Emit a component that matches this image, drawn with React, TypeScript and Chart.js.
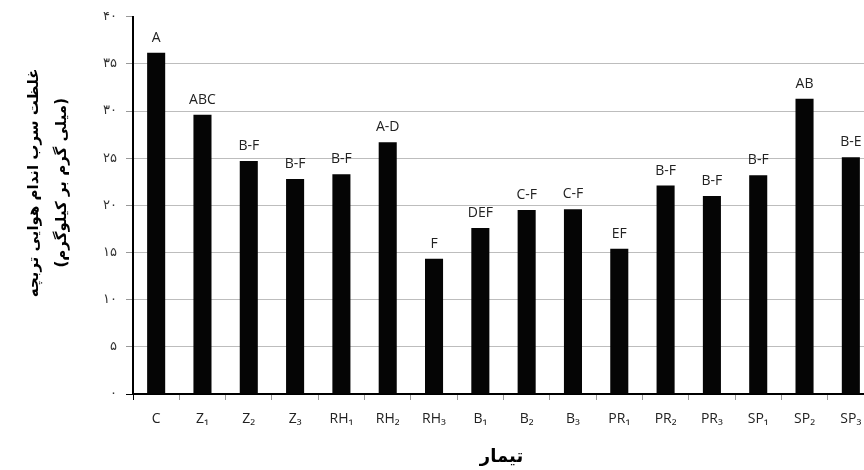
import React, { useEffect, useRef } from "react";
import { Chart, registerables } from "chart.js";

Chart.register(...registerables);

const categories = ["C", "Z₁", "Z₂", "Z₃", "RH₁", "RH₂", "RH₃", "B₁", "B₂", "B₃", "PR₁", "PR₂", "PR₃", "SP₁", "SP₂", "SP₃"];
const leadValues = [36.2, 29.6, 24.7, 22.8, 23.3, 26.7, 14.35, 17.6, 19.5, 19.6, 15.4, 22.1, 21.0, 23.2, 31.3, 25.1];
const groupLetters = ["A", "ABC", "B-F", "B-F", "B-F", "A-D", "F", "DEF", "C-F", "C-F", "EF", "B-F", "B-F", "B-F", "AB", "B-E"];
const yTickLabels = ["۰", "۵", "۱۰", "۱۵", "۲۰", "۲۵", "۳۰", "۳۵", "۴۰"];
const yTitleLines = ["غلظت سرب اندام هوایی تربچه", "(میلی گرم بر کیلوگرم)"];
const xTitle = "تیمار";

const letterPlugin = {
  id: "letters",
  afterDatasetsDraw(chart: any) {
    const ctx = chart.ctx;
    const meta = chart.getDatasetMeta(0);
    ctx.save();
    ctx.font = "14px 'Open Sans'";
    ctx.fillStyle = "#222";
    ctx.textAlign = "center";
    ctx.textBaseline = "alphabetic";
    meta.data.forEach((bar: any, i: number) => {
      ctx.fillText(groupLetters[i], bar.x, bar.y - 11);
    });
    ctx.restore();
  },
};

const titlePlugin = {
  id: "titles",
  afterDraw(chart: any) {
    const ctx = chart.ctx;
    const area = chart.chartArea;
    ctx.save();
    ctx.fillStyle = "#000";
    ctx.direction = "rtl";
    ctx.textAlign = "center";
    ctx.textBaseline = "middle";
    ctx.font = "bold 15px 'DejaVu Sans'";
    const cy = area.top + (area.bottom - area.top) * 0.44;
    const xs = [34, 62];
    yTitleLines.forEach((line, i) => {
      ctx.save();
      ctx.translate(xs[i], cy);
      ctx.rotate(-Math.PI / 2);
      ctx.fillText(line, 0, 0);
      ctx.restore();
    });
    ctx.font = "bold 18px 'DejaVu Sans'";
    ctx.textBaseline = "alphabetic";
    ctx.fillText(xTitle, (area.left + area.right) / 2 - 2, 462);
    ctx.restore();
  },
};

export default function App() {
  const ref = useRef<HTMLCanvasElement | null>(null);
  useEffect(() => {
    if (!ref.current) return;
    const chart = new Chart(ref.current, {
      type: "bar",
      data: {
        labels: categories,
        datasets: [
          {
            data: leadValues,
            backgroundColor: "#050505",
            borderWidth: 0,
            categoryPercentage: 1,
            barPercentage: 0.39,
          },
        ],
      },
      options: {
        animation: false,
        responsive: false,
        maintainAspectRatio: false,
        layout: { padding: { left: 0, right: 6, top: 14, bottom: 0 } },
        plugins: { legend: { display: false }, tooltip: { enabled: false } },
        scales: {
          x: {
            grid: {
              offset: true,
              drawOnChartArea: false,
              drawTicks: true,
              tickLength: 6,
              tickColor: (c: any) => (c.index === 0 ? "#000" : "#999"),
              lineWidth: 1,
            },
            border: { color: "#000", width: 2 },
            ticks: {
              font: { family: "'Open Sans'", size: 14 },
              color: "#222",
              padding: 11,
              maxRotation: 0,
              autoSkip: false,
            },
            afterFit: (s: any) => {
              s.height = 76;
            },
          },
          y: {
            min: 0,
            max: 40,
            ticks: {
              stepSize: 5,
              callback: (v: any) => yTickLabels[Math.round(Number(v) / 5)],
              font: { family: "'DejaVu Sans'", size: 13 },
              color: "#333",
              padding: 9,
            },
            grid: {
              color: (c: any) =>
                c.tick && (c.tick.value === 0 || c.tick.value === 40) ? "rgba(0,0,0,0)" : "#bdbdbd",
              tickColor: (c: any) => (c.tick && c.tick.value === 0 ? "#000" : "#999"),
              tickLength: 7,
              lineWidth: 1,
            },
            border: { color: "#000", width: 2 },
            afterFit: (s: any) => {
              s.width = 133;
            },
          },
        },
      },
      plugins: [letterPlugin, titlePlugin],
    });
    return () => chart.destroy();
  }, []);
  return (
    <div style={{ position: "fixed", left: 0, top: 0, width: 864, height: 470, overflow: "hidden", background: "#fff" }}>
      <canvas ref={ref} width={880} height={470} style={{ width: 880, height: 470, display: "block" }} />
    </div>
  );
}
